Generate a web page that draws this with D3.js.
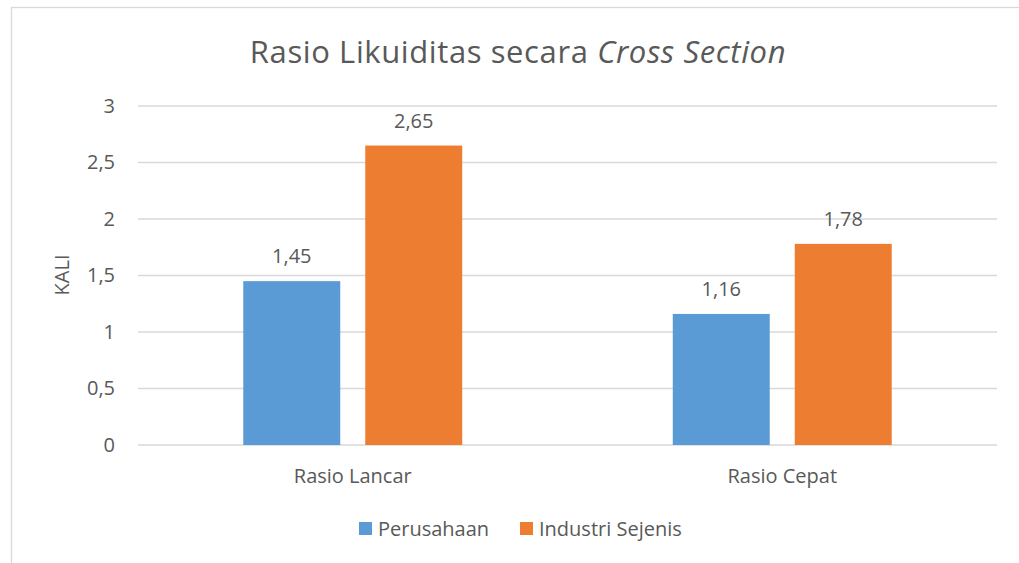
<!DOCTYPE html>
<head>
  <meta charset="utf-8">
  <script src="https://cdnjs.cloudflare.com/ajax/libs/d3/7.8.5/d3.min.js"></script>
</head>
<style>
  body { margin: 0; background: #fff; }
  text { font-family: "Open Sans", "Liberation Sans", sans-serif; fill: #595959; }
  .y_axis path, .y_axis line, .x_axis path, .x_axis line { display: none; }
  .grid line { stroke: #d9d9d9; stroke-width: 1.3; }
</style>
<body>
  <svg width="1019" height="563" class="my_bar"></svg>
  <script>
  let categories = ["Rasio Lancar", "Rasio Cepat"];
  let seriesNames = ["Perusahaan", "Industri Sejenis"];
  let perusahaan = [1.45, 1.16];
  let industri = [2.65, 1.78];
  let yTicks = [0, 0.5, 1, 1.5, 2, 2.5, 3];
  let colors = ["#5b9bd5", "#ed7d31"];

  let svg = d3.select(".my_bar");

  // chart frame
  svg.append("rect")
      .attr("x", 11.5).attr("y", 7.5)
      .attr("width", 1020).attr("height", 580)
      .attr("fill", "none").attr("stroke", "#d9d9d9").attr("stroke-width", 1.3);

  let margin = {top: 106, left: 138, right: 22, bottom: 118};
  let width = 1019 - margin.left - margin.right,
      height = 563 - margin.top - margin.bottom;

  let g = svg.append("g").attr("transform", "translate(" + margin.left + "," + margin.top + ")");

  let y = d3.scaleLinear().domain([0, 3]).range([height, 0]);
  let x0 = d3.scaleBand().domain(categories).range([0, width]).padding(0);
  let x1 = d3.scaleBand().domain(seriesNames).range([0, x0.bandwidth()])
      .paddingInner(0.205).paddingOuter(0.863);

  g.append("g").attr("class", "grid")
    .selectAll("line").data(yTicks).enter().append("line")
      .attr("x1", 0).attr("x2", width)
      .attr("y1", d => y(d)).attr("y2", d => y(d));

  let fmt = d => String(d).replace(".", ",");

  g.append("g").attr("class", "axis y_axis")
      .call(d3.axisLeft(y).tickValues(yTicks).tickFormat(fmt).tickSize(0).tickPadding(23))
      .selectAll("text").style("font-size", "20px").attr("fill", "#595959");

  g.append("g").attr("class", "axis x_axis")
      .attr("transform", "translate(0," + height + ")")
      .call(d3.axisBottom(x0).tickSize(0).tickPadding(24))
      .selectAll("text").style("font-size", "20px").attr("fill", "#595959");

  let rows = categories.map((c, i) => ({cat: c, vals: [perusahaan[i], industri[i]]}));

  let grp = g.selectAll(".grp").data(rows).enter().append("g")
      .attr("transform", d => "translate(" + x0(d.cat) + ",0)");

  let bars = grp.selectAll("g").data(d => d.vals.map((v, j) => ({s: seriesNames[j], v: v, j: j})))
      .enter().append("g");

  bars.append("rect")
      .attr("x", d => x1(d.s))
      .attr("y", d => y(d.v))
      .attr("width", x1.bandwidth())
      .attr("height", d => height - y(d.v))
      .attr("fill", d => colors[d.j]);

  bars.append("text")
      .attr("x", d => x1(d.s) + x1.bandwidth() / 2)
      .attr("y", d => y(d.v) - 18)
      .attr("text-anchor", "middle")
      .style("font-size", "20px")
      .text(d => fmt(d.v));

  // title
  let title = svg.append("text")
      .attr("x", 518).attr("y", 63)
      .attr("text-anchor", "middle")
      .style("font-size", "31px")
      .style("letter-spacing", "0.6px");
  title.append("tspan").text("Rasio Likuiditas secara ");
  title.append("tspan").style("font-style", "italic").text("Cross Section");

  // y label
  svg.append("text")
      .attr("transform", "translate(69,275) rotate(-90)")
      .attr("text-anchor", "middle")
      .style("font-size", "20px")
      .text("KALI");

  // legend
  let legX = [359, 520];
  let leg = svg.selectAll(".leg").data(seriesNames).enter().append("g")
      .attr("transform", (d, i) => "translate(" + legX[i] + ",522)");
  leg.append("rect").attr("width", 13).attr("height", 13).attr("fill", (d, i) => colors[i]);
  leg.append("text").attr("x", 19).attr("y", 14).style("font-size", "20px").text(d => d);
  </script>
</body>
